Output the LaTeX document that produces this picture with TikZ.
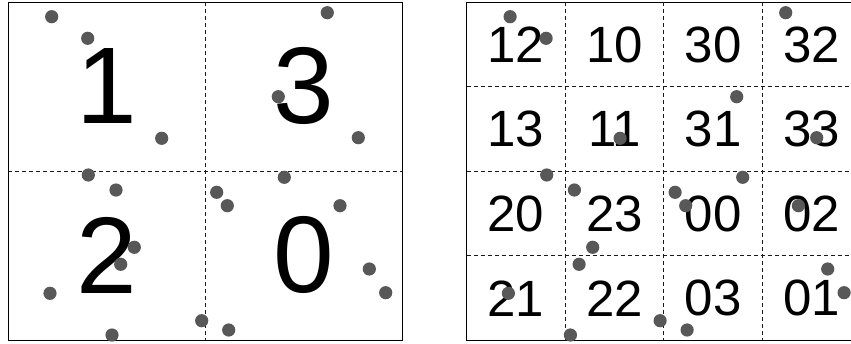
\documentclass[tikz,border=0pt]{standalone}
\usepackage{fontspec}
\setmainfont{Liberation Sans}
\usetikzlibrary{positioning}
\definecolor{dotgray}{RGB}{88,88,88}
\tikzset{
  frame/.style={draw=black, line width=1pt},
  divider/.style={draw=black!90, line width=0.9pt, dash pattern=on 4pt off 3pt},
  bigdigit/.style={inner sep=0pt, font=\fontsize{109}{109}\selectfont},
  smalldigit/.style={inner sep=0pt, font=\fontsize{51}{51}\selectfont}
}
\newcommand{\PointSet}[1]{%
  \foreach \px/\py in {51.7/16.7, 87.7/38.3, 161.7/138.3, 327.3/12.7, 278.3/96.7,
      358.3/137.7, 88.3/175, 116/190, 216.7/192.3, 227.3/205.7, 284.3/177.3,
      340/205.7, 134.3/247.3, 120.7/264.3, 50/293.3, 369.3/269, 385.7/292.7,
      201.7/320.7, 228.7/330, 112/335}
    \fill[dotgray] (\px+#1,\py) circle (6.6pt);
}

\begin{document}
\begin{tikzpicture}[x=1pt,y=-1pt]
    \clip (0,0) rectangle (851,343);
    % coarse grid, 2 x 2
    \draw[frame] (8.3,2) rectangle (402.7,340.5);
    \draw[divider] (205.5,2) -- (205.5,340.5);
    \draw[divider] (8.3,171) -- (402.7,171);
    \foreach \c/\r/\lab in {0/0/1, 1/0/3, 0/1/2, 1/1/0}
      \node[bigdigit] (q\lab) at (107+197.2*\c, 86+169*\r) {\lab};
    \PointSet{0}
    % fine grid, 4 x 4
    \draw[frame] (466.7,2) rectangle (861,340.5);
    \foreach \c in {1,2,3}
      \draw[divider] (466.7+98.6*\c,2) -- (466.7+98.6*\c,340.5);
    \foreach \r in {1,2,3}
      \draw[divider] (466.7,2+84.6*\r) -- (861,2+84.6*\r);
    \foreach \lab [count=\i from 0] in {12,10,30,32,13,11,31,33,20,23,00,02,21,22,03,01} {
      \pgfmathtruncatemacro{\c}{mod(\i,4)}
      \pgfmathtruncatemacro{\r}{div(\i,4)}
      \node[smalldigit] (s\lab) at (516+98.6*\c, 44.5+84.6*\r) {\lab};
    }
    \PointSet{458.4}
\end{tikzpicture}
\end{document}
